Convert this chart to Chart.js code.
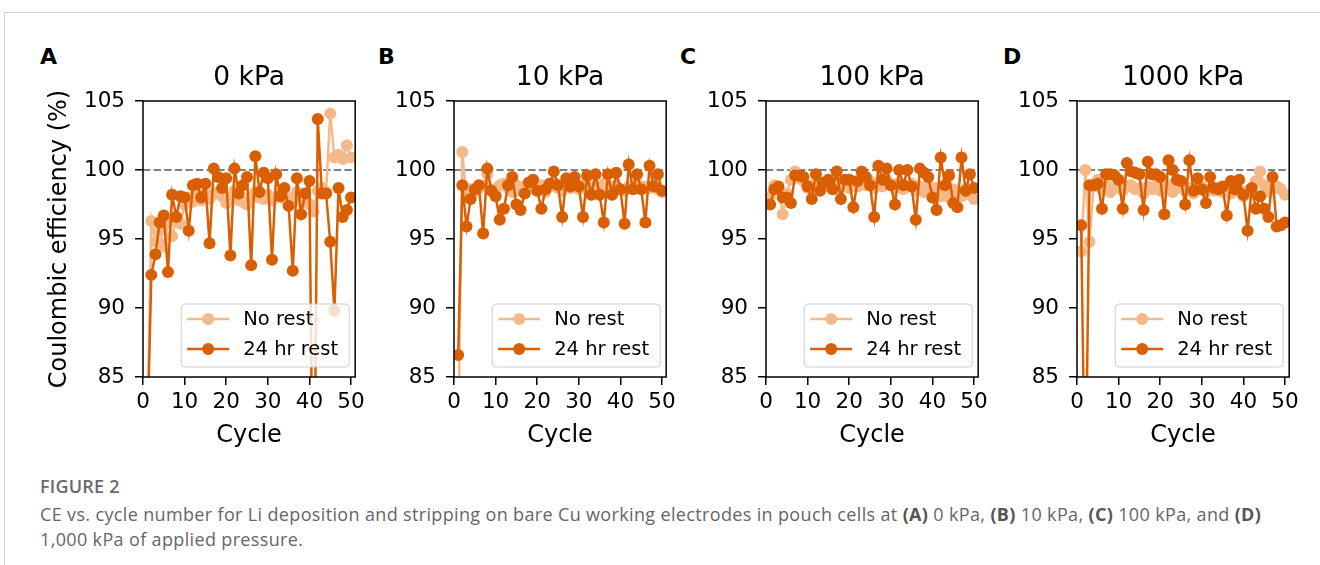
<!DOCTYPE html>
<html>
<head>
<meta charset="utf-8">
<script src="https://cdn.jsdelivr.net/npm/chart.js@4.4.1/dist/chart.umd.min.js"></script>
<style>
    body { margin: 0; width: 1320px; height: 565px; background: #fff; position: relative; overflow: hidden; font-family: "DejaVu Sans", sans-serif; }
    .frame { position: absolute; left: 4px; top: 12px; right: -2px; bottom: -2px; border-top: 1px solid #d0d0d0; border-left: 1px solid #d0d0d0; }
    .panel { position: absolute; top: 40px; width: 337px; height: 420px; }
    .letter { position: absolute; top: 45px; font: bold 22px "DejaVu Sans", sans-serif; line-height: 24px; color: #000; }
    .caption { position: absolute; left: 40px; top: 473px; font-family: "Open Sans", sans-serif; color: #666; }
    .caption .fig { font-size: 18px; font-weight: 600; line-height: 26px; letter-spacing: 0.2px; color: #6a6a6a; }
    .caption .txt { font-size: 18px; line-height: 25px; margin-top: 3px; letter-spacing: 0.35px; }
    .caption b { color: #555; }
</style>
</head>
<body>
<div class="frame"></div>

<div class="letter" style="left:40px">A</div>
<div class="letter" style="left:378px">B</div>
<div class="letter" style="left:680px">C</div>
<div class="letter" style="left:1003px">D</div>

<div class="panel" style="left:33px"><canvas id="chartA"></canvas></div>
<div class="panel" style="left:344px"><canvas id="chartB"></canvas></div>
<div class="panel" style="left:656px"><canvas id="chartC"></canvas></div>
<div class="panel" style="left:967px"><canvas id="chartD"></canvas></div>

<div class="caption">
    <div class="fig">FIGURE 2</div>
    <div class="txt">CE vs. cycle number for Li deposition and stripping on bare Cu working electrodes in pouch cells at <b>(A)</b> 0 kPa, <b>(B)</b> 10 kPa, <b>(C)</b> 100 kPa, and <b>(D)</b><br>1,000 kPa of applied pressure.</div>
</div>

<script>
const CYCLES = [1, 2, 3, 4, 5, 6, 7, 8, 9, 10, 11, 12, 13, 14, 15, 16, 17, 18, 19, 20,
    21, 22, 23, 24, 25, 26, 27, 28, 29, 30, 31, 32, 33, 34, 35, 36, 37, 38, 39, 40,
    41, 42, 43, 44, 45, 46, 47, 48, 49, 50];
const X_TICKS = [0, 10, 20, 30, 40, 50];
const Y_TICKS = [85, 90, 95, 100, 105];
const REFERENCE_CE = 100;
const SERIES_LABELS = ['No rest', '24 hr rest'];
const PANEL_TITLES = ['0 kPa', '10 kPa', '100 kPa', '1000 kPa'];

// 0 kPa
const noRest0 = [80, 96.3, 94.8, 95.6, 94.5, 96.2, 95.2, 96.4, 96.1, 97.5,
    98.0, 97.7, 98.3, 97.8, 98.2, 97.9, 98.3, 98.4, 98.1, 97.6,
    98.0, 98.5, 97.8, 97.7, 97.5, 98.1, 98.4, 98.0, 97.9, 98.2,
    97.8, 98.0, 98.3, 97.9, 97.6, 98.0, 98.4, 97.7, 98.0, 97.5,
    97.0, 98.5, 98.7, 98.4, 104.1, 100.9, 101.1, 100.8, 101.8, 100.9];
const rest0 = [80, 92.4, 93.9, 96.2, 96.7, 92.6, 98.2, 96.6, 98.1, 98.0,
    95.6, 98.9, 99.0, 98.0, 99.0, 94.7, 100.1, 99.5, 98.7, 99.4,
    93.8, 100.1, 98.3, 98.9, 99.5, 93.1, 101.0, 98.4, 99.8, 99.4,
    93.5, 99.7, 98.1, 98.7, 97.4, 92.7, 99.4, 96.8, 98.3, 99.2,
    70, 103.7, 98.3, 98.3, 94.8, 89.8, 98.7, 96.6, 97.1, 98.0];

// 10 kPa
const noRest10 = [80, 101.3, 98.0, 98.6, 98.4, 98.7, 98.8, 99.7, 98.6, 98.3,
    98.9, 99.0, 98.7, 98.4, 98.9, 98.5, 98.8, 99.0, 98.6, 98.7,
    98.9, 98.4, 98.8, 99.1, 98.7, 98.5, 98.9, 98.7, 98.8, 98.6,
    98.9, 99.0, 98.5, 98.8, 98.7, 99.0, 98.6, 98.8, 98.9, 98.6,
    98.5, 98.8, 98.7, 99.0, 98.6, 98.8, 98.7, 98.9, 98.6, 98.4];
const rest10 = [86.6, 98.9, 95.9, 97.9, 98.6, 98.9, 95.4, 100.1, 98.5, 98.1,
    96.4, 97.2, 98.9, 99.5, 97.5, 97.1, 98.3, 99.1, 99.3, 98.5,
    97.2, 98.6, 99.0, 99.9, 98.9, 96.6, 99.4, 98.8, 99.5, 98.8,
    96.6, 99.6, 98.2, 99.7, 98.2, 96.2, 99.7, 98.2, 99.8, 98.6,
    96.1, 100.4, 98.6, 99.7, 98.6, 96.2, 100.3, 98.8, 99.7, 98.5];

// 100 kPa
const noRest100 = [98.1, 98.9, 98.6, 96.8, 98.3, 99.3, 99.9, 99.4, 99.2, 98.7,
    98.9, 99.0, 98.6, 98.8, 99.1, 98.9, 98.6, 99.2, 98.9, 98.7,
    99.0, 98.8, 99.1, 98.9, 99.2, 98.7, 99.0, 98.8, 99.3, 98.9,
    98.7, 99.1, 98.6, 98.9, 99.0, 98.5, 98.8, 98.4, 98.9, 98.2,
    98.7, 98.1, 98.5, 98.0, 98.6, 98.3, 98.1, 98.6, 98.2, 97.9];
const rest100 = [97.5, 98.6, 98.8, 98.0, 98.0, 97.6, 99.6, 99.6, 99.5, 98.8,
    97.9, 99.7, 98.5, 99.1, 99.3, 98.6, 99.9, 97.9, 99.3, 99.3,
    97.3, 99.2, 99.9, 99.5, 98.9, 96.6, 100.3, 99.3, 100.1, 98.9,
    97.5, 100.0, 98.9, 100.0, 98.8, 96.4, 100.1, 99.8, 99.5, 98.0,
    97.1, 100.9, 98.9, 99.6, 97.6, 97.3, 100.9, 98.5, 99.7, 98.7];

// 1000 kPa
const noRest1000 = [94.1, 100.0, 94.8, 98.8, 99.3, 98.6, 98.9, 98.4, 98.7, 98.9,
    98.5, 98.8, 98.9, 98.6, 98.7, 98.3, 98.8, 98.6, 98.9, 98.5,
    98.7, 98.9, 98.4, 98.7, 98.8, 98.5, 98.7, 98.3, 98.6, 98.8,
    98.4, 98.6, 98.5, 98.7, 98.4, 98.6, 98.3, 98.7, 98.4, 98.1,
    98.5, 98.3, 99.2, 99.9, 98.9, 98.4, 98.7, 98.8, 98.6, 98.2];
const rest1000 = [96.0, 75, 98.9, 98.9, 99.0, 97.2, 99.7, 99.7, 99.6, 99.3,
    97.2, 100.5, 99.9, 99.8, 99.7, 97.1, 100.6, 99.7, 99.7, 99.5,
    96.8, 100.7, 100.0, 99.3, 99.2, 97.5, 100.7, 98.5, 99.4, 98.6,
    97.6, 99.5, 98.7, 98.6, 98.8, 96.7, 99.2, 98.6, 99.3, 98.2,
    95.6, 98.7, 97.2, 98.1, 97.2, 96.6, 99.5, 95.9, 96.0, 96.2];

const LIGHT = '#f5b888';
const DARK = '#d95f02';
const FONT = '"DejaVu Sans", sans-serif';

const toPoints = (values) => CYCLES.map((c, i) => ({ x: c, y: values[i] }));

// spines on all four sides like matplotlib
const boxPlugin = {
    id: 'box',
    afterDraw(chart) {
        const { ctx, chartArea: ca } = chart;
        ctx.save();
        ctx.strokeStyle = '#000';
        ctx.lineWidth = 1.5;
        ctx.strokeRect(ca.left, ca.top, ca.right - ca.left, ca.bottom - ca.top);
        ctx.restore();
    }
};

// legend box in the lower right of the axes
const innerLegend = {
    id: 'innerLegend',
    afterDraw(chart) {
        const { ctx, chartArea: ca } = chart;
        const w = 168, h = 63;
        const x0 = ca.right - 6 - w;
        const y0 = ca.bottom - 10 - h;
        ctx.save();
        ctx.beginPath();
        ctx.roundRect(x0, y0, w, h, 4);
        ctx.fillStyle = 'rgba(255,255,255,0.8)';
        ctx.fill();
        ctx.strokeStyle = '#cccccc';
        ctx.lineWidth = 1;
        ctx.stroke();

        const items = chart.data.datasets.filter(d => d.inLegend);
        items.forEach((ds, i) => {
            const cy = y0 + 15 + i * 30;
            ctx.strokeStyle = ds.borderColor;
            ctx.lineWidth = 2.5;
            ctx.beginPath();
            ctx.moveTo(x0 + 6, cy);
            ctx.lineTo(x0 + 48, cy);
            ctx.stroke();
            ctx.fillStyle = ds.pointBackgroundColor;
            ctx.beginPath();
            ctx.arc(x0 + 27, cy, 6, 0, Math.PI * 2);
            ctx.fill();
            ctx.fillStyle = '#000';
            ctx.font = '19.5px ' + FONT;
            ctx.textBaseline = 'middle';
            ctx.textAlign = 'left';
            ctx.fillText(ds.label, x0 + 62, cy + 1);
        });
        ctx.restore();
    }
};

function seriesDataset(label, values, color, order) {
    return {
        label: label,
        data: toPoints(values),
        borderColor: color,
        backgroundColor: color,
        pointBackgroundColor: color,
        pointBorderColor: color,
        pointBorderWidth: 0,
        pointRadius: 6,
        borderWidth: 2.5,
        tension: 0,
        order: order,
        inLegend: true
    };
}

function renderPanel(canvasId, title, noRest, rest, showYTitle) {
    const ctx = document.getElementById(canvasId).getContext('2d');
    return new Chart(ctx, {
        type: 'line',
        data: {
            datasets: [
                {
                    label: 'ref',
                    data: [{ x: 0, y: REFERENCE_CE }, { x: 51, y: REFERENCE_CE }],
                    borderColor: '#808080',
                    borderWidth: 2,
                    borderDash: [7.4, 3.2],
                    pointRadius: 0,
                    order: 3
                },
                seriesDataset(SERIES_LABELS[0], noRest, LIGHT, 2),
                seriesDataset(SERIES_LABELS[1], rest, DARK, 1)
            ]
        },
        options: {
            responsive: false,
            animation: false,
            devicePixelRatio: 1,
            layout: { padding: { left: 0, right: 12, top: 0, bottom: 0 } },
            scales: {
                x: {
                    type: 'linear',
                    min: 0,
                    max: 51,
                    afterBuildTicks: (scale) => { scale.ticks = X_TICKS.map(v => ({ value: v })); },
                    afterFit: (scale) => { scale.height = 83; },
                    grid: { drawOnChartArea: false, tickLength: 8, tickColor: '#000', lineWidth: 1.5 },
                    border: { display: false },
                    ticks: { color: '#000', font: { family: FONT, size: 21.5 }, padding: 5, maxRotation: 0 },
                    title: { display: true, text: 'Cycle', color: '#000', font: { family: FONT, size: 24 }, padding: { top: 0, bottom: 9.6 } }
                },
                y: {
                    min: 85,
                    max: 105,
                    afterBuildTicks: (scale) => { scale.ticks = Y_TICKS.map(v => ({ value: v })); },
                    afterFit: (scale) => { scale.width = 110; },
                    grid: { drawOnChartArea: false, tickLength: 8, tickColor: '#000', lineWidth: 1.5 },
                    border: { display: false },
                    ticks: { color: '#000', font: { family: FONT, size: 21.5 }, padding: 10 },
                    title: { display: showYTitle, text: 'Coulombic efficiency (%)', color: '#000', font: { family: FONT, size: 24 }, padding: { top: 12.6, bottom: 0 } }
                }
            },
            plugins: {
                legend: { display: false },
                tooltip: { enabled: false },
                title: {
                    display: true,
                    text: title,
                    fullSize: false,
                    color: '#000',
                    font: { family: FONT, size: 26.5, weight: 'normal' },
                    padding: { top: 22.1, bottom: 7.1 }
                }
            }
        },
        plugins: [boxPlugin, innerLegend]
    });
}

function setSize(id) {
    const c = document.getElementById(id);
    c.width = 337;
    c.height = 420;
    c.style.width = '337px';
    c.style.height = '420px';
}

['chartA', 'chartB', 'chartC', 'chartD'].forEach(setSize);

renderPanel('chartA', PANEL_TITLES[0], noRest0, rest0, true);
renderPanel('chartB', PANEL_TITLES[1], noRest10, rest10, false);
renderPanel('chartC', PANEL_TITLES[2], noRest100, rest100, false);
renderPanel('chartD', PANEL_TITLES[3], noRest1000, rest1000, false);
</script>
</body>
</html>
